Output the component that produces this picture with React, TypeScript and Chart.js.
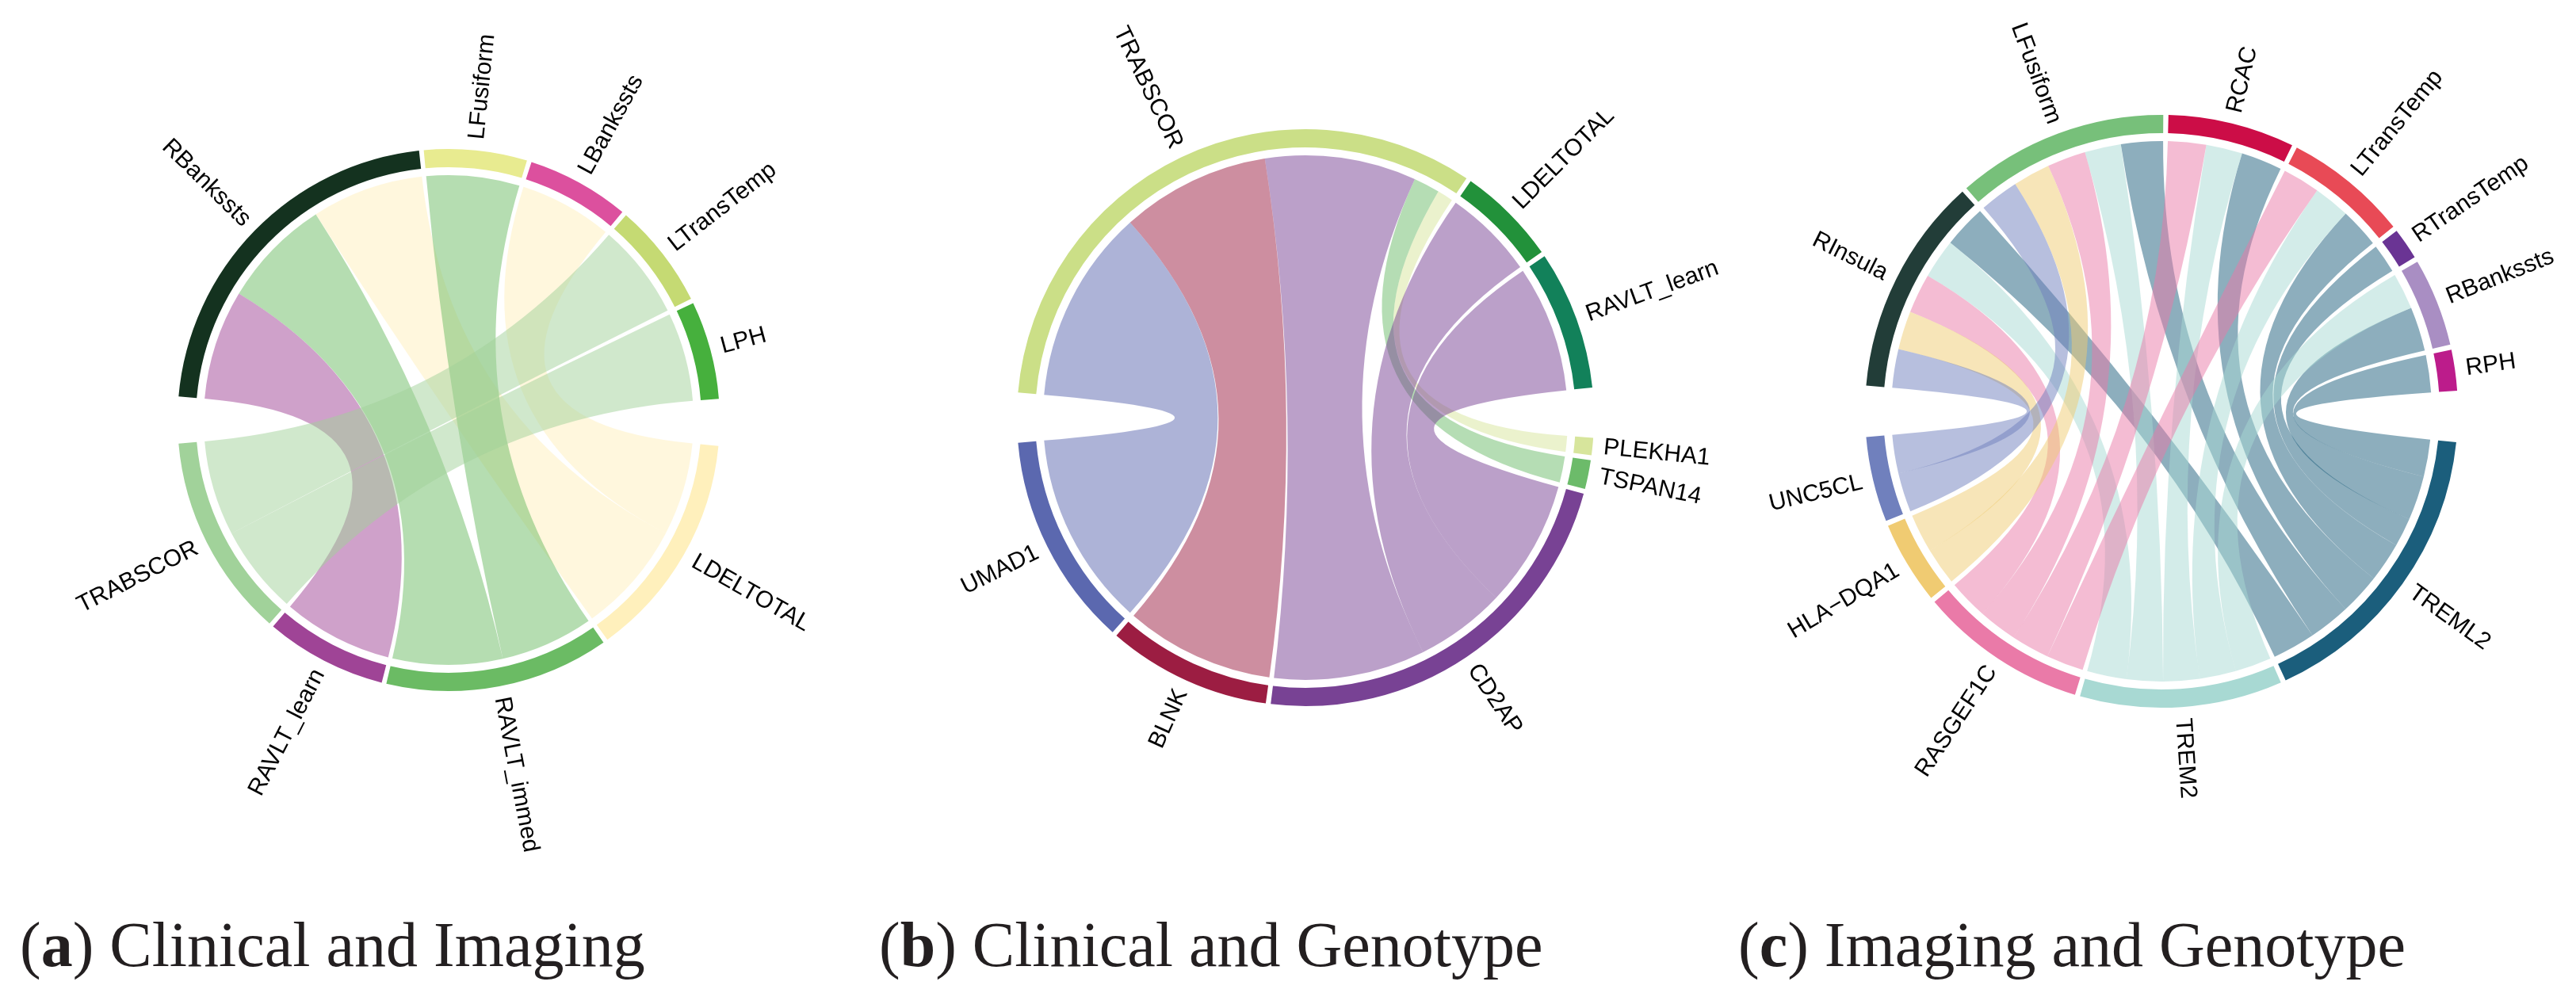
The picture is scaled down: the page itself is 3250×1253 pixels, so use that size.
import React, { useEffect, useRef } from "react";
import { Chart, registerables } from "chart.js";

Chart.register(...registerables);

// ---------------- Panel (a): Clinical and Imaging ----------------
const aRowSectors = ["RBankssts", "LFusiform", "LBankssts", "LTransTemp", "LPH"];
const aColSectors = ["LDELTOTAL", "RAVLT_immed", "RAVLT_learn", "TRABSCOR"];
const aLinkFrom = ["RBankssts", "RBankssts", "RBankssts", "LFusiform", "LBankssts", "LTransTemp", "LPH"];
const aLinkTo = ["LDELTOTAL", "RAVLT_immed", "RAVLT_learn", "RAVLT_immed", "LDELTOTAL", "TRABSCOR", "TRABSCOR"];
const aLinkValue = [0.265, 0.26, 0.26, 0.22, 0.22, 0.225, 0.21];
const aColors = ["#14321f", "#e8eb90", "#dc509e", "#c5da73", "#46b03d", "#fff0bc", "#6bbb64", "#9f4496", "#a1d29a"];

// ---------------- Panel (b): Clinical and Genotype ----------------
const bRowSectors = ["TRABSCOR", "LDELTOTAL", "RAVLT_learn"];
const bColSectors = ["PLEKHA1", "TSPAN14", "CD2AP", "BLNK", "UMAD1"];
const bLinkFrom = ["TRABSCOR", "TRABSCOR", "TRABSCOR", "TRABSCOR", "TRABSCOR", "LDELTOTAL", "RAVLT_learn"];
const bLinkTo = ["PLEKHA1", "TSPAN14", "CD2AP", "BLNK", "UMAD1", "CD2AP", "CD2AP"];
const bLinkValue = [0.035, 0.058, 0.335, 0.33, 0.43, 0.2, 0.28];
const bColors = ["#cbdf87", "#22913a", "#12815a", "#d7e59c", "#6cbb6a", "#784294", "#9c1d42", "#5b68af"];

// ---------------- Panel (c): Imaging and Genotype ----------------
const cRowSectors = ["RInsula", "LFusiform", "RCAC", "LTransTemp", "RTransTemp", "RBankssts", "RPH"];
const cColSectors = ["TREML2", "TREM2", "RASGEF1C", "HLA\u2212DQA1", "UNC5CL"];
const cLinkFrom = [
  "RInsula", "RInsula", "RInsula", "RInsula", "RInsula",
  "LFusiform", "LFusiform", "LFusiform", "LFusiform", "LFusiform",
  "RCAC", "RCAC", "RCAC",
  "LTransTemp", "LTransTemp", "LTransTemp",
  "RTransTemp",
  "RBankssts", "RBankssts",
  "RPH",
];
const cLinkTo = [
  "TREML2", "TREM2", "RASGEF1C", "HLA\u2212DQA1", "UNC5CL",
  "TREML2", "TREM2", "RASGEF1C", "HLA\u2212DQA1", "UNC5CL",
  "TREML2", "TREM2", "RASGEF1C",
  "TREML2", "TREM2", "RASGEF1C",
  "TREML2",
  "TREML2", "TREM2",
  "TREML2",
];
const cLinkValue = [
  0.092, 0.085, 0.085, 0.083, 0.083,
  0.09, 0.078, 0.083, 0.08, 0.084,
  0.088, 0.078, 0.082,
  0.085, 0.078, 0.08,
  0.062,
  0.095, 0.078,
  0.08,
];
const cColors = [
  "#223d38", "#77c07a", "#cc0d47", "#e84a56", "#6a3494", "#a98ec3", "#bc1c8b",
  "#1b5e7c", "#a8d9d3", "#ea7aa8", "#f0cb72", "#7080bd",
];

const captionA = ["a", "Clinical and Imaging"];
const captionB = ["b", "Clinical and Genotype"];
const captionC = ["c", "Imaging and Genotype"];

// ---------------- layout / style constants ----------------
const BIG_GAP = 10;
const SMALL_GAP = 1;
const RING_WIDTH = 23;
const RIBBON_INSET = 33;
const LABEL_OFFSET = 14;
const LABEL_FONT = '30px "Liberation Sans", Arial, sans-serif';
const CANVAS_SIZE = 1300;

function hexToRgba(hex: string, a: number) {
  const h = hex.replace("#", "");
  const r = parseInt(h.slice(0, 2), 16);
  const g = parseInt(h.slice(2, 4), 16);
  const b = parseInt(h.slice(4, 6), 16);
  return `rgba(${r},${g},${b},${a})`;
}

type PanelProps = {
  rows: string[];
  cols: string[];
  from: string[];
  to: string[];
  values: number[];
  colors: string[];
  radius: number;
  cx: number;
  cy: number;
};

function ChordPanel(props: PanelProps) {
  const ref = useRef<HTMLCanvasElement | null>(null);
  useEffect(() => {
    const { rows, cols, from, to, values, colors, radius } = props;
    const sectors = [...rows, ...cols];
    const secVal = sectors.map((s) =>
      values.reduce((acc, v, i) => acc + (from[i] === s || to[i] === s ? v : 0), 0)
    );
    const grand = secVal.reduce((a, b) => a + b, 0);
    const gapDeg = 2 * BIG_GAP + (rows.length - 1 + cols.length - 1) * SMALL_GAP;
    const degPerUnit = (360 - gapDeg) / grand;

    const data: number[] = [];
    const bg: string[] = [];
    const labels: string[] = [];
    const segSector: number[] = [];
    const push = (v: number, c: string, l: string, s: number) => {
      data.push(v);
      bg.push(c);
      labels.push(l);
      segSector.push(s);
    };
    const transparent = "rgba(0,0,0,0)";
    push(BIG_GAP / 2 / degPerUnit, transparent, "", -1);
    rows.forEach((s, i) => {
      if (i > 0) push(SMALL_GAP / degPerUnit, transparent, "", -1);
      const idx = sectors.indexOf(s);
      push(secVal[idx], colors[idx], s, idx);
    });
    push(BIG_GAP / degPerUnit, transparent, "", -1);
    cols.forEach((s, i) => {
      if (i > 0) push(SMALL_GAP / degPerUnit, transparent, "", -1);
      const idx = sectors.indexOf(s);
      push(secVal[idx], colors[idx], s, idx);
    });
    push(BIG_GAP / 2 / degPerUnit, transparent, "", -1);

    const getSectorArcs = (chart: any) => {
      const meta = chart.getDatasetMeta(0);
      const arcs: any[] = new Array(sectors.length);
      meta.data.forEach((el: any, i: number) => {
        if (segSector[i] >= 0) arcs[segSector[i]] = el;
      });
      return arcs;
    };

    const chordPlugin = {
      id: "chordRibbons",
      beforeDatasetsDraw(chart: any) {
        const arcs = getSectorArcs(chart);
        const ctx = chart.ctx as CanvasRenderingContext2D;
        const cx = arcs[0].x;
        const cy = arcs[0].y;
        const rr = arcs[0].outerRadius - RIBBON_INSET;
        const ends: { f: [number, number]; t: [number, number] }[] = values.map(() => ({
          f: [0, 0],
          t: [0, 0],
        }));
        sectors.forEach((s, si) => {
          const arc = arcs[si];
          const span = arc.endAngle - arc.startAngle;
          const list: { li: number; partner: number; isFrom: boolean }[] = [];
          values.forEach((_, li) => {
            if (from[li] === s) list.push({ li, partner: sectors.indexOf(to[li]), isFrom: true });
            else if (to[li] === s) list.push({ li, partner: sectors.indexOf(from[li]), isFrom: false });
          });
          list.sort((p, q) => q.partner - p.partner);
          let a = arc.startAngle;
          list.forEach((it) => {
            const w = (values[it.li] / secVal[si]) * span;
            const seg: [number, number] = [a, a + w];
            if (it.isFrom) ends[it.li].f = seg;
            else ends[it.li].t = seg;
            a += w;
          });
        });
        ctx.save();
        values.forEach((_, li) => {
          const [a0, a1] = ends[li].f;
          const [b0, b1] = ends[li].t;
          const colIdx = sectors.indexOf(to[li]);
          ctx.beginPath();
          ctx.arc(cx, cy, rr, a0, a1, false);
          ctx.quadraticCurveTo(cx, cy, cx + rr * Math.cos(b0), cy + rr * Math.sin(b0));
          ctx.arc(cx, cy, rr, b0, b1, false);
          ctx.quadraticCurveTo(cx, cy, cx + rr * Math.cos(a0), cy + rr * Math.sin(a0));
          ctx.closePath();
          ctx.fillStyle = hexToRgba(colors[colIdx], 0.5);
          ctx.fill();
        });
        ctx.restore();
      },
      afterDatasetsDraw(chart: any) {
        const arcs = getSectorArcs(chart);
        const ctx = chart.ctx as CanvasRenderingContext2D;
        ctx.save();
        ctx.font = LABEL_FONT;
        ctx.fillStyle = "#000";
        ctx.textBaseline = "middle";
        sectors.forEach((s, si) => {
          const arc = arcs[si];
          const mid = (arc.startAngle + arc.endAngle) / 2;
          const r = arc.outerRadius + LABEL_OFFSET;
          ctx.save();
          ctx.translate(arc.x, arc.y);
          if (Math.cos(mid) >= 0) {
            ctx.rotate(mid);
            ctx.textAlign = "left";
            ctx.fillText(s, r, 0);
          } else {
            ctx.rotate(mid + Math.PI);
            ctx.textAlign = "right";
            ctx.fillText(s, -r, 0);
          }
          ctx.restore();
        });
        ctx.restore();
      },
    };

    const chart = new Chart(ref.current as HTMLCanvasElement, {
      type: "doughnut",
      data: {
        labels,
        datasets: [
          {
            data,
            backgroundColor: bg,
            borderWidth: 0,
            hoverOffset: 0,
          } as any,
        ],
      },
      options: {
        responsive: false,
        animation: false,
        events: [],
        rotation: -90,
        circumference: 360,
        radius: radius,
        cutout: `${((radius - RING_WIDTH) / radius) * 100}%`,
        layout: { padding: 0 },
        plugins: { legend: { display: false }, tooltip: { enabled: false } },
      } as any,
      plugins: [chordPlugin],
    });
    return () => chart.destroy();
  }, []);

  return (
    <canvas
      ref={ref}
      width={CANVAS_SIZE}
      height={CANVAS_SIZE}
      style={{
        position: "absolute",
        left: props.cx - CANVAS_SIZE / 2,
        top: props.cy - CANVAS_SIZE / 2,
      }}
    />
  );
}

function Caption(props: { letter: string; text: string; left: number }) {
  return (
    <div
      style={{
        position: "absolute",
        left: props.left,
        top: 1152,
        fontFamily: '"Liberation Serif", "Times New Roman", serif',
        fontSize: 80,
        lineHeight: 1,
        color: "#231f20",
        whiteSpace: "nowrap",
      }}
    >
      (<b>{props.letter}</b>) {props.text}
    </div>
  );
}

export default function App() {
  return (
    <div
      style={{
        position: "absolute",
        left: 0,
        top: 0,
        width: 3250,
        height: 1253,
        overflow: "hidden",
        background: "#ffffff",
      }}
    >
      <ChordPanel
        rows={aRowSectors}
        cols={aColSectors}
        from={aLinkFrom}
        to={aLinkTo}
        values={aLinkValue}
        colors={aColors}
        radius={342}
        cx={566}
        cy={530}
      />
      <ChordPanel
        rows={bRowSectors}
        cols={bColSectors}
        from={bLinkFrom}
        to={bLinkTo}
        values={bLinkValue}
        colors={bColors}
        radius={364}
        cx={1647}
        cy={527}
      />
      <ChordPanel
        rows={cRowSectors}
        cols={cColSectors}
        from={cLinkFrom}
        to={cLinkTo}
        values={cLinkValue}
        colors={cColors}
        radius={374}
        cx={2727}
        cy={519}
      />
      <Caption letter={captionA[0]} text={captionA[1]} left={25} />
      <Caption letter={captionB[0]} text={captionB[1]} left={1109} />
      <Caption letter={captionC[0]} text={captionC[1]} left={2193} />
    </div>
  );
}
